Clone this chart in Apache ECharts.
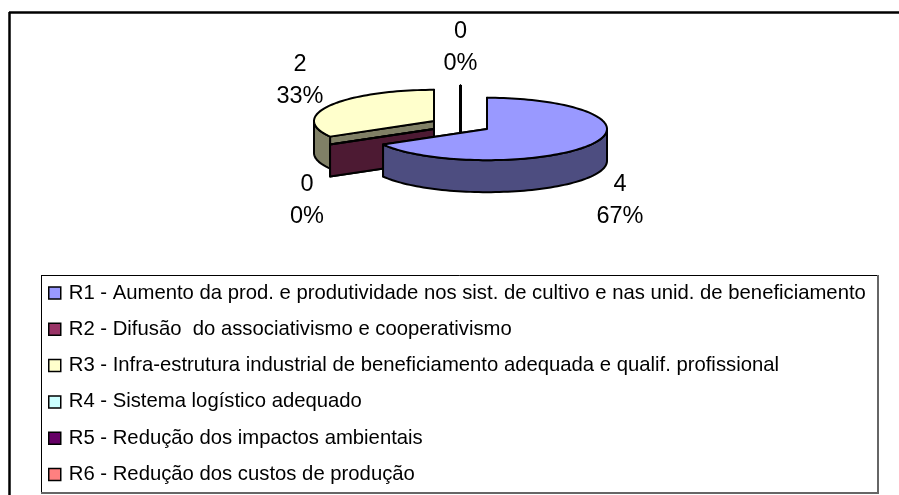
<!DOCTYPE html>
<html>
<head>
<meta charset="utf-8">
<style>html,body{margin:0;padding:0;background:#fff}#c{width:899px;height:495px}</style>
<script src="https://cdn.jsdelivr.net/npm/echarts@6/dist/echarts.min.js"></script>
</head>
<body>
<div id="c"></div>
<script>
const categories = [
  'R1 - Aumento da prod. e produtividade nos sist. de cultivo e nas unid. de beneficiamento',
  'R2 - Difusão  do associativismo e cooperativismo',
  'R3 - Infra-estrutura industrial de beneficiamento adequada e qualif. profissional',
  'R4 - Sistema logístico adequado',
  'R5 - Redução dos impactos ambientais',
  'R6 - Redução dos custos de produção'
];
const values = [4, 0, 2, 0, 0, 0];
const colors = ['#9999FF', '#993366', '#FFFFCC', '#CCFFFF', '#660066', '#FF8080'];
const sideColors = ['#4D4D80', '#4D1A33', '#808066', '#668080', '#330033', '#804040'];

// pie geometry (all slices exploded, Excel-style 3D pie)
const cx = 460.5, cy = 125, rx = 120, squash = 0.26, depth = 32, explode = 30.6;
const ry = rx * squash;
const total = values.reduce((a, b) => a + b, 0);
// label anchor relative to each slice's exploded centre
const labelOffsets = [[133, 71.5], [-127, 71.5], [-134, -40.5], [0, -70], [0, -70], [0, -70]];
const drawLabel = [true, true, true, true, false, false];
const drawOrder = [6, 5, 4, 1, 2, 3];

let acc = 0;
const spans = values.map(v => { const s = acc / total * 360; acc += v; return [s, acc / total * 360]; });

function P(c, deg, z) {
  const t = deg * Math.PI / 180;
  return [c[0] + rx * Math.sin(t), c[1] - ry * Math.cos(t) + (z || 0)];
}
function arc(c, a0, a1, z) {
  const n = Math.max(1, Math.ceil(Math.abs(a1 - a0) / 2)), pts = [];
  for (let i = 0; i <= n; i++) pts.push(P(c, a0 + (a1 - a0) * i / n, z));
  return pts;
}
const edge = { stroke: '#000', lineWidth: 2, lineJoin: 'round' };
function poly(points, fill) {
  return { type: 'polygon', shape: { points }, style: Object.assign({ fill }, edge) };
}
function makeRender(i) {
  return function (params, api) {
    const v = api.value(0);
    const [a0, a1] = spans[i];
    const mid = (a0 + a1) / 2, t = mid * Math.PI / 180;
    const c = [cx + explode * Math.sin(t), cy - explode * squash * Math.cos(t)];
    const kids = [];
    [a0, a1].forEach(a => {
      const p = P(c, a);
      kids.push(poly([c, p, [p[0], p[1] + depth], [c[0], c[1] + depth]], sideColors[i]));
    });
    const r0 = Math.max(a0, 90), r1 = Math.min(a1, 270);
    if (r1 > r0) {
      kids.push(poly(arc(c, r0, r1, 0).concat(arc(c, r1, r0, depth)), sideColors[i]));
    }
    kids.push(poly([c].concat(arc(c, a0, a1, 0)), colors[i]));
    if (drawLabel[i]) {
      kids.push({
        type: 'text',
        x: c[0] + labelOffsets[i][0], y: c[1] + labelOffsets[i][1],
        style: {
          text: v + '\n' + Math.round(v / total * 100) + '%',
          fill: '#000', align: 'center', verticalAlign: 'middle',
          font: '23.5px "Liberation Sans"', lineHeight: 32
        }
      });
    }
    return { type: 'group', children: kids };
  };
}
const line = (x1, y1, x2, y2, stroke, lineWidth) => ({
  type: 'line', shape: { x1, y1, x2, y2 }, style: { stroke, lineWidth }, silent: true
});
const option = {
  animation: false,
  backgroundColor: '#fff',
  legend: {
    data: categories, orient: 'vertical', left: 48, top: 282, padding: 0,
    itemWidth: 12, itemHeight: 12, itemGap: 14.3, icon: 'rect', selectedMode: false,
    itemStyle: { borderColor: '#000', borderWidth: 1.5 },
    textStyle: { fontFamily: 'Liberation Sans', fontSize: 20.3, color: '#000', lineHeight: 22, padding: [0, 0, 0, 3] }
  },
  graphic: [
    line(9, 12.5, 899, 12.5, '#000', 2.5),
    line(9.5, 12, 9.5, 495, '#000', 2.5),
    line(41.5, 275.5, 878, 275.5, '#000', 1),
    line(41.5, 275, 41.5, 492, '#000', 1),
    line(878, 275, 878, 493, '#666', 2),
    line(41, 493, 879, 493, '#666', 2)
  ],
  series: categories.map((name, i) => ({
    type: 'custom', name, coordinateSystem: 'none', z: drawOrder[i],
    itemStyle: { color: colors[i] },
    data: [[values[i]]],
    renderItem: makeRender(i)
  }))
};
echarts.init(document.getElementById('c'), null, { renderer: 'canvas' }).setOption(option);
</script>
</body>
</html>
